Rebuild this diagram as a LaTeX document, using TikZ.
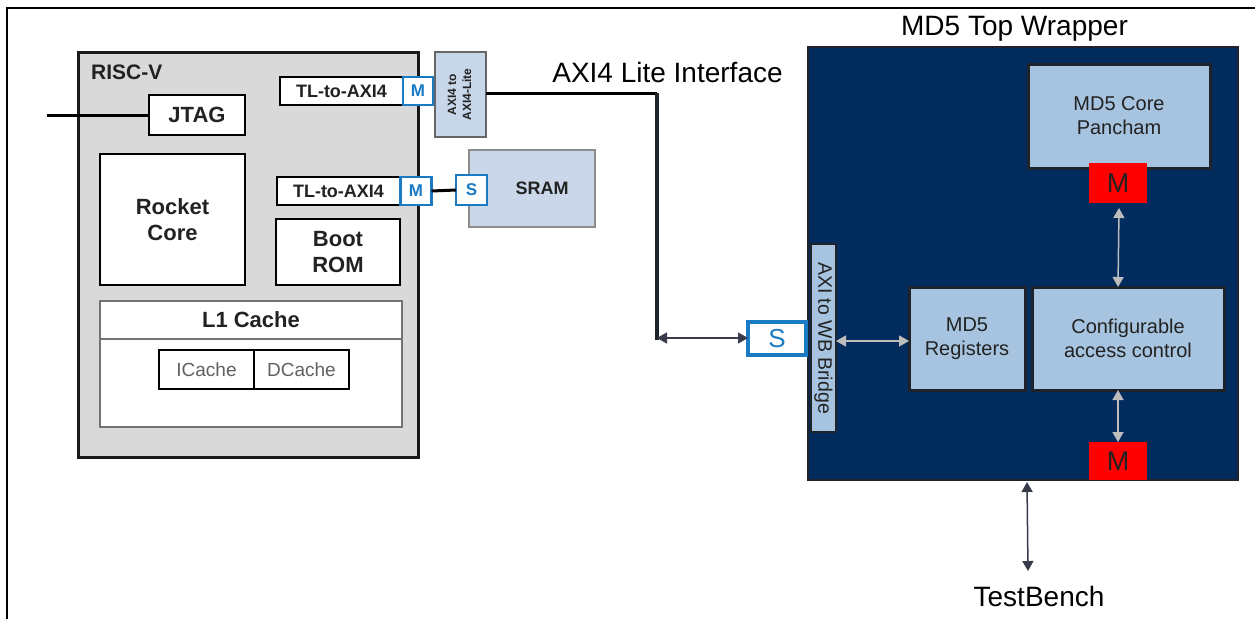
\documentclass[tikz,border=0pt]{standalone}
\usepackage{fontspec}
\setmainfont{Liberation Sans}
\usetikzlibrary{arrows.meta,calc}
\definecolor{riscgray}{HTML}{D9D9D9}
\definecolor{portblue}{HTML}{1A7BC4}
\definecolor{axilblue}{HTML}{C8D6EA}
\definecolor{sramblue}{HTML}{CAD7E8}
\definecolor{navy}{HTML}{022B5E}
\definecolor{inblue}{HTML}{A6C4DF}
\definecolor{inborder}{HTML}{1E2329}
\definecolor{arrgray}{HTML}{BDBDBD}
\definecolor{arrdark}{HTML}{3A3B4A}
\definecolor{txtgray}{HTML}{606060}
\definecolor{txtdark}{HTML}{222222}
\tikzset{
  base/.style={inner sep=0pt, outer sep=0pt, align=center},
  wbox/.style={base, draw=black, line width=2.5pt, fill=white, text=txtdark, font=\bfseries\fontsize{21}{26}\selectfont},
  port/.style={base, draw=portblue, line width=2.5pt, fill=white, text=portblue, font=\bfseries\fontsize{17}{20}\selectfont},
  inbox/.style={base, draw=inborder, line width=3pt, fill=inblue, text=txtdark, font=\fontsize{20}{24}\selectfont},
  redm/.style={base, fill=red, text=txtdark, font=\fontsize{27}{28}\selectfont},
  biggray/.style={draw=arrgray, line width=1.5pt, {Triangle[length=10pt,width=11pt]}-{Triangle[length=10pt,width=11pt]}},
  bigdark/.style={draw=arrdark, line width=1.5pt, {Triangle[length=10pt,width=11pt]}-{Triangle[length=10pt,width=11pt]}},
  title/.style={inner sep=0pt, text=black, font=\fontsize{28}{30}\selectfont},
}
\begin{document}
\begin{tikzpicture}[x=1pt,y=-1pt]
\useasboundingbox (0,0) rectangle (1255,619);
% outer frame (top and left only)
\draw[line width=2.5pt] (7,619) -- (7,8) -- (1255,8);

% ---------------- RISC-V ----------------
\node[base, draw=black!90, line width=3pt, fill=riscgray, minimum width=340, minimum height=405] (risc) at (248,254.5) {};
\node[anchor=base west, inner sep=0pt, text=txtdark, font=\bfseries\fontsize{21}{22}\selectfont] (risclbl) at (91,79) {RISC-V};

\coordinate (jtagin) at (47,115);
\node[wbox, font=\bfseries\fontsize{22}{26}\selectfont, minimum width=96, minimum height=40] (jtag) at (197,115) {JTAG};
\draw[line width=3pt] (jtagin) -- (jtag.west);

\node[wbox, font=\bfseries\fontsize{18}{20}\selectfont, minimum width=123, minimum height=28] (tla) at (341.5,91) {TL-to-AXI4};
\node[port, minimum width=30, minimum height=28] (ma) at (418,91) {M};

\node[wbox, font=\bfseries\fontsize{18}{20}\selectfont, minimum width=123, minimum height=28] (tlb) at (338.5,191) {TL-to-AXI4};
\node[port, minimum width=31, minimum height=28] (mb) at (416,191) {M};

\node[wbox, font=\bfseries\fontsize{22}{26}\selectfont, minimum width=145, minimum height=131] (rocket) at (172.5,219.5) {Rocket\\Core};
\node[wbox, font=\bfseries\fontsize{22}{26}\selectfont, minimum width=124, minimum height=66] (boot) at (338,252) {Boot\\ROM};

\node[base, draw=black!55, line width=1.5pt, fill=white, minimum width=302, minimum height=126] (l1) at (251,364) {};
\draw[draw=black!55, line width=1.5pt] (l1.west |- 0,339) -- (l1.east |- 0,339);
\node[inner sep=0pt, text=txtdark, font=\bfseries\fontsize{22}{24}\selectfont] (l1lbl) at (251,320) {L1 Cache};
\node[base, draw=black, line width=2.5pt, fill=white, text=txtgray, font=\fontsize{19}{20}\selectfont, minimum width=95, minimum height=39] (icache) at (206.5,369.5) {ICache};
\node[base, draw=black, line width=2.5pt, fill=white, text=txtgray, font=\fontsize{19}{20}\selectfont, minimum width=95, minimum height=39] (dcache) at (301.5,369.5) {DCache};

% AXI4 to AXI4-Lite
\node[base, draw=black!60, line width=1.5pt, fill=axilblue, text=txtdark, minimum width=51, minimum height=85] (axil) at (460.5,94.5)
  {\rotatebox{90}{\fontsize{12}{15}\selectfont\bfseries\begin{tabular}{@{}c@{}}AXI4 to\\AXI4-Lite\end{tabular}}};

% SRAM
\node[base, draw=black!45, line width=1.5pt, fill=sramblue, text=txtdark, font=\bfseries\fontsize{18}{20}\selectfont, minimum width=126, minimum height=77] (sram) at (532,188.5) {\hspace*{20pt}SRAM};
\node[port, minimum width=31, minimum height=30] (sb) at (471.5,190) {S};
\draw[line width=3pt] (mb.east) -- (sb.west);

% AXI4 Lite interface line
\node[title, anchor=base] (axilbl) at (667.5,82) {AXI4 Lite Interface};
\coordinate (bend) at (657,93);
\coordinate (drop) at (657,338);
\draw[line width=3pt] (axil.east |- bend) -- (bend);
\draw[line width=3.5pt, draw=inborder] (bend) -- ($(drop)+(0,2)$);

% ---------------- MD5 wrapper ----------------
\node[title, anchor=base] (wraplbl) at (1014.5,35) {MD5 Top Wrapper};
\node[base, draw=inborder, line width=2pt, fill=navy, minimum width=430, minimum height=433] (wrap) at (1023,263.5) {};

\node[inbox, minimum width=182, minimum height=104] (core) at (1119,116) {MD5 Core\\Pancham};
\node[redm, minimum width=58, minimum height=40] (mtop) at (1118,183) {M};

\node[base, draw=inborder, line width=2pt, fill=inblue, text=txtdark, minimum width=25, minimum height=188] (bridge) at (823.5,338)
  {\rotatebox{-90}{\fontsize{19.5}{20}\selectfont AXI to WB Bridge}};

\node[inbox, minimum width=116, minimum height=103] (regs) at (967,338.5) {MD5\\Registers};
\node[inbox, minimum width=192, minimum height=103] (cfg) at (1128,338.5) {Configurable\\access control};
\node[redm, minimum width=58, minimum height=38] (mbot) at (1118,461) {M};

\node[base, draw=portblue, line width=3.5pt, fill=white, text=portblue, font=\fontsize{26}{28}\selectfont, minimum width=58, minimum height=33] (sw) at (777,338.5) {S};

\draw[bigdark] (drop) -- (sw.west |- drop);

\draw[biggray] ($(mtop.south)+(1,5)$) -- (mtop.south |- cfg.north);
\draw[biggray] (mtop.south |- cfg.south) -- (mbot.north);
\draw[biggray] (bridge.east |- 0,341) -- (regs.west |- 0,341);

\node[title, anchor=base] (tb) at (1039,606) {TestBench};
\coordinate (tbtop) at (1027,482);
\coordinate (tbbot) at (1028,571);
\draw[bigdark] (tbtop) -- (tbbot);
\end{tikzpicture}
\end{document}
